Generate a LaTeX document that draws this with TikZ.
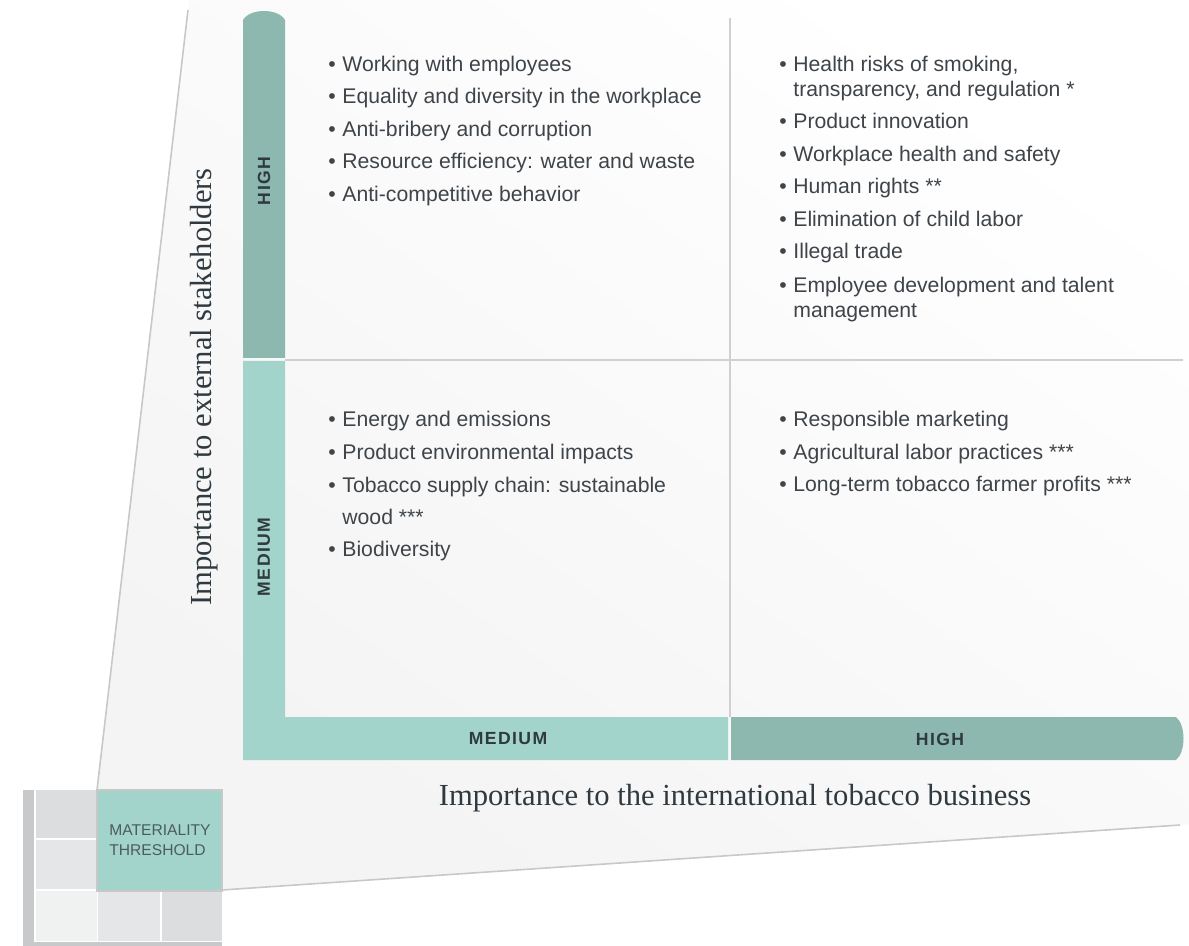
\documentclass[tikz,border=0pt]{standalone}
\usepackage{fontspec}
\setmainfont{Liberation Sans}
\newfontfamily\serifaxis{Liberation Serif}
\newfontfamily\barfont[LetterSpace=8]{Liberation Sans}
\definecolor{tealD}{HTML}{8CB8B0}
\definecolor{tealL}{HTML}{A3D4CC}
\definecolor{txt}{HTML}{3E4449}
\definecolor{gridc}{HTML}{D0D0D0}
\definecolor{wedgec}{HTML}{C8C8C8}
\definecolor{axisc}{HTML}{2F3A40}
\definecolor{cellA}{HTML}{DCDDDF}
\definecolor{cellB}{HTML}{E5E6E8}
\definecolor{cellC}{HTML}{F0F1F1}
\definecolor{sidebar}{HTML}{C8C9CB}
\definecolor{thrtxt}{HTML}{4B5C5C}
\newcommand\bul{\makebox[7pt][l]{•}}
\tikzset{
  item/.style={anchor=base west, inner sep=0pt, align=left, font=\fontsize{10.6}{12.5}\selectfont, text=txt},
  barlabel/.style={inner sep=0pt, font=\barfont\bfseries\fontsize{8.8}{10}\selectfont, text=axisc},
  axislabel/.style={inner sep=0pt, font=\serifaxis\fontsize{15.3}{18}\selectfont, text=axisc},
  gridline/.style={draw=gridc, line width=1pt},
  wedgeline/.style={draw=wedgec, line width=0.8pt}
}
\begin{document}
\begin{tikzpicture}[x=0.5pt, y=-0.5pt]
\useasboundingbox (0,0) rectangle (1189,946);
% background wedge
\shade[bottom color=black!4.5, middle color=white, top color=white, shading angle=-35]
  (97,790) -- (189.2,0) -- (1189,0) -- (1189,824.4) -- (222,890) -- cycle;
\coordinate (wl1) at (97,790);
\coordinate (wl2) at (188,10);
\coordinate (wb1) at (222,890);
\coordinate (wb2) at (1180,825);
\draw[wedgeline] (wl1) -- (wl2);
\draw[wedgeline] (wb1) -- (wb2);
% small grid
\fill[sidebar] (23,790) rectangle (34,946);
\fill[sidebar] (23,942) rectangle (222,946);
\fill[cellA] (36,790) rectangle (97,838);
\fill[cellB] (36,840) rectangle (97,889);
\fill[cellC] (36,891) rectangle (97,941);
\fill[cellB] (98,891) rectangle (160,941);
\fill[cellA] (162,891) rectangle (222,941);
\node[draw=wedgec, line width=0.6pt, fill=tealL, minimum width=62.5pt, minimum height=50.5pt, inner sep=0pt] (thr) at (159.5,840.5) {};
\node[anchor=base west, inner sep=0pt, align=left, font=\fontsize{7.8}{10}\selectfont, text=thrtxt] (thrtext) at (109,855) {MATERIALITY\\THRESHOLD};
% bars
\fill[tealL] (243,361) -- (285,361) -- (285,717) -- (728,717) -- (728,760) -- (243,760) -- cycle;
\fill[tealD] (243,358) -- (243,20) .. controls (250,8) and (278,8) .. (285,20) -- (285,358) -- cycle;
\fill[tealD] (731,717) -- (1176,717) .. controls (1186,725) and (1186,752) .. (1176,760) -- (731,760) -- cycle;
% grid lines
\coordinate (vt) at (730,18);
\coordinate (vb) at (730,717);
\coordinate (hl) at (285,360);
\coordinate (hr) at (1183,360);
\draw[gridline] (vt) -- (vb);
\draw[gridline] (hl) -- (hr);
% bar labels
\node[barlabel, rotate=90] (vhigh) at (264,181) {HIGH};
\node[barlabel, rotate=90] (vmed) at (264,557) {MEDIUM};
\node[barlabel] (hmed) at (508,739) {MEDIUM};
\node[barlabel] (hhigh) at (940,739) {HIGH};
% axis labels
\node[axislabel, rotate=90] (ylab) at (204,387) {Importance to external stakeholders};
\node[axislabel] (xlab) at (735,798) {Importance to the international tobacco business};
% quadrant top-left
\node[item] (a1) at (328,72) {\bul Working with employees};
\node[item] (a2) at (328,104) {\bul Equality and diversity in the workplace};
\node[item] (a3) at (328,137) {\bul Anti-bribery and corruption};
\node[item] (a4) at (328,169) {\bul Resource efficiency: water and waste};
\node[item] (a5) at (328,202) {\bul Anti-competitive behavior};
% quadrant top-right
\node[item] (b1) at (779,97) {\bul Health risks of smoking,\\\hspace*{7pt}transparency, and regulation *};
\node[item] (b2) at (779,129) {\bul Product innovation};
\node[item] (b3) at (779,162) {\bul Workplace health and safety};
\node[item] (b4) at (779,194) {\bul Human rights **};
\node[item] (b5) at (779,227) {\bul Elimination of child labor};
\node[item] (b6) at (779,259) {\bul Illegal trade};
\node[item] (b7) at (779,318) {\bul Employee development and talent\\\hspace*{7pt}management};
% quadrant bottom-left
\node[item] (c1) at (328,427) {\bul Energy and emissions};
\node[item] (c2) at (328,459) {\bul Product environmental impacts};
\node[item] (c3) at (328,524) {\bul Tobacco supply chain: sustainable\\[3.5pt]\hspace*{7pt}wood ***};
\node[item] (c4) at (328,557) {\bul Biodiversity};
% quadrant bottom-right
\node[item] (d1) at (779,427) {\bul Responsible marketing};
\node[item] (d2) at (779,459) {\bul Agricultural labor practices ***};
\node[item] (d3) at (779,492) {\bul Long-term tobacco farmer profits ***};
\end{tikzpicture}
\end{document}
